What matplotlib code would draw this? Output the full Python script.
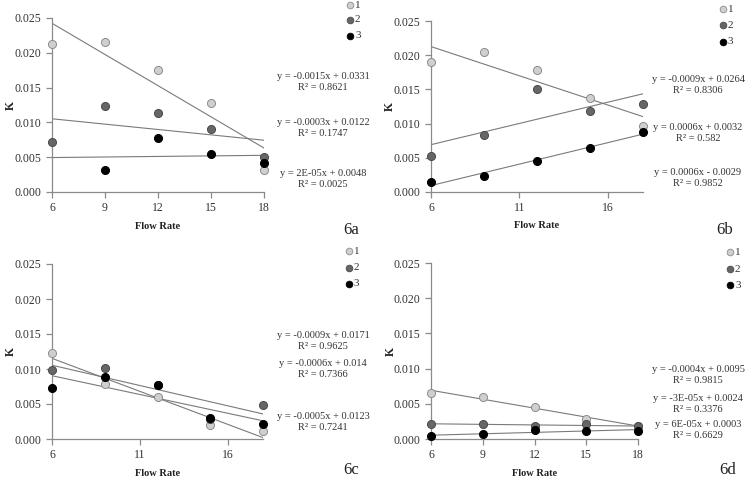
import numpy as np
import matplotlib.pyplot as plt

plt.rcParams['font.family'] = ['Liberation Serif', 'DejaVu Serif']

flow = np.array([6, 9, 12, 15, 18])

# K values (series 1, 2, 3)
k6a_1 = [0.0212, 0.0216, 0.0176, 0.0128, 0.0032]
k6a_2 = [0.0072, 0.0123, 0.0114, 0.0090, 0.0050]
k6a_3 = [np.nan, 0.0032, 0.0077, 0.0055, 0.0042]

k6b_1 = [0.0190, 0.0205, 0.0179, 0.0137, 0.0096]
k6b_2 = [0.0052, 0.0084, 0.0150, 0.0118, 0.0128]
k6b_3 = [0.0014, 0.0023, 0.0046, 0.0065, 0.0087]

k6c_1 = [0.0123, 0.0079, 0.0060, 0.0020, 0.0011]
k6c_2 = [0.0098, 0.0102, 0.0077, 0.0028, 0.0048]
k6c_3 = [0.0073, 0.0089, 0.0077, 0.0030, 0.0022]

k6d_1 = [0.0066, 0.0060, 0.0046, 0.0029, 0.0018]
k6d_2 = [0.0022, 0.0021, 0.0018, 0.0021, 0.0018]
k6d_3 = [0.0004, 0.0007, 0.0013, 0.0011, 0.0012]

eq6a = ["y = -0.0015x + 0.0331\nR² = 0.8621", "y = -0.0003x + 0.0122\nR² = 0.1747",
        "y = 2E-05x + 0.0048\nR² = 0.0025"]
eq6b = ["y = -0.0009x + 0.0264\nR² = 0.8306", "y = 0.0006x + 0.0032\nR² = 0.582",
        "y = 0.0006x - 0.0029\nR² = 0.9852"]
eq6c = ["y = -0.0009x + 0.0171\nR² = 0.9625", "y = -0.0006x + 0.014\nR² = 0.7366",
        "y = -0.0005x + 0.0123\nR² = 0.7241"]
eq6d = ["y = -0.0004x + 0.0095\nR² = 0.9815", "y = -3E-05x + 0.0024\nR² = 0.3376",
        "y = 6E-05x + 0.0003\nR² = 0.6629"]

face = ['#cfcfcf', '#666666', '#000000']
edge = ['#8c8c8c', '#4a4a4a', '#000000']

fig = plt.figure(figsize=(7.5, 4.84), dpi=100)
W, H = 750, 484


def px_axes(l, t, r, b):
    return fig.add_axes([l / W, 1 - b / H, (r - l) / W, (b - t) / H])


def panel(box, series, xticks, eqs, eq_x, eq_y, leg_x, leg_y, tag, tag_xy):
    ax = px_axes(*box)
    for i, k in enumerate(series):
        k = np.array(k)
        ok = ~np.isnan(k)
        m, c = np.polyfit(flow[ok], k[ok], 1)
        xs = np.array([6, 18])
        ax.plot(xs, m * xs + c, color='#7a7a7a', lw=0.8, zorder=2)
    for i, k in enumerate(series):
        ax.plot(flow, k, 'o', ms=5.8, mfc=face[i], mec=edge[i], mew=0.7,
                zorder=3 + i, clip_on=False)
    ax.set_xlim(6, 18)
    ax.set_ylim(0, 0.025)
    ax.set_xticks(xticks)
    ax.set_yticks(np.arange(0, 0.0251, 0.005))
    ax.yaxis.set_major_formatter(plt.FuncFormatter(lambda v, p: f"{v:.3f}"))
    for s in ['top', 'right']:
        ax.spines[s].set_visible(False)
    for s in ['left', 'bottom']:
        ax.spines[s].set_color('#8a8a8a')
        ax.spines[s].set_linewidth(0.9)
    ax.tick_params(colors='#8a8a8a', labelcolor='#333333', labelsize=8.5,
                   length=4, width=0.9, direction='out')
    ax.set_xlabel('Flow Rate', fontsize=7.5, fontweight='bold', color='#222222')
    ax.xaxis.set_label_coords(0.5, -0.17)
    ax.set_ylabel('K', fontsize=8.5, fontweight='bold', color='#222222')
    ax.yaxis.set_label_coords(-0.165, 0.5)

    for txt, y in zip(eqs, eq_y):
        fig.text(eq_x / W, 1 - y / H, txt, ha='center', va='center',
                 fontsize=7.5, color='#333333', linespacing=1.35)
    for i, y in enumerate(leg_y):
        fig.lines.append(plt.Line2D([leg_x / W], [1 - y / H], marker='o', ms=4.8,
                                    mfc=face[i], mec=edge[i], mew=0.6,
                                    transform=fig.transFigure))
        fig.text((leg_x + 5) / W, 1 - y / H, str(i + 1), ha='left', va='center',
                 fontsize=8, color='#333333')
    fig.text(tag_xy[0] / W, 1 - tag_xy[1] / H, tag, ha='center', va='center',
             fontsize=12, color='#222222')


panel((52, 18, 264, 192), [k6a_1, k6a_2, k6a_3], [6, 9, 12, 15, 18], eq6a,
      323, [82, 128, 179], 350, [5, 20, 36], '6a', (351, 230))
panel((431, 21, 643, 192), [k6b_1, k6b_2, k6b_3], [6, 11, 16], eq6b,
      698, [85, 133, 178], 723, [9, 25, 42], '6b', (725, 230))
panel((52, 264, 263, 439), [k6c_1, k6c_2, k6c_3], [6, 11, 16], eq6c,
      323, [341, 369, 422], 349, [251, 268, 284], '6c', (351, 470))
panel((431, 263, 638, 439), [k6d_1, k6d_2, k6d_3], [6, 9, 12, 15, 18], eq6d,
      698, [375, 404, 430], 730, [252, 269, 285], '6d', (728, 470))

fig.savefig('out.png', dpi=100, facecolor='white')
